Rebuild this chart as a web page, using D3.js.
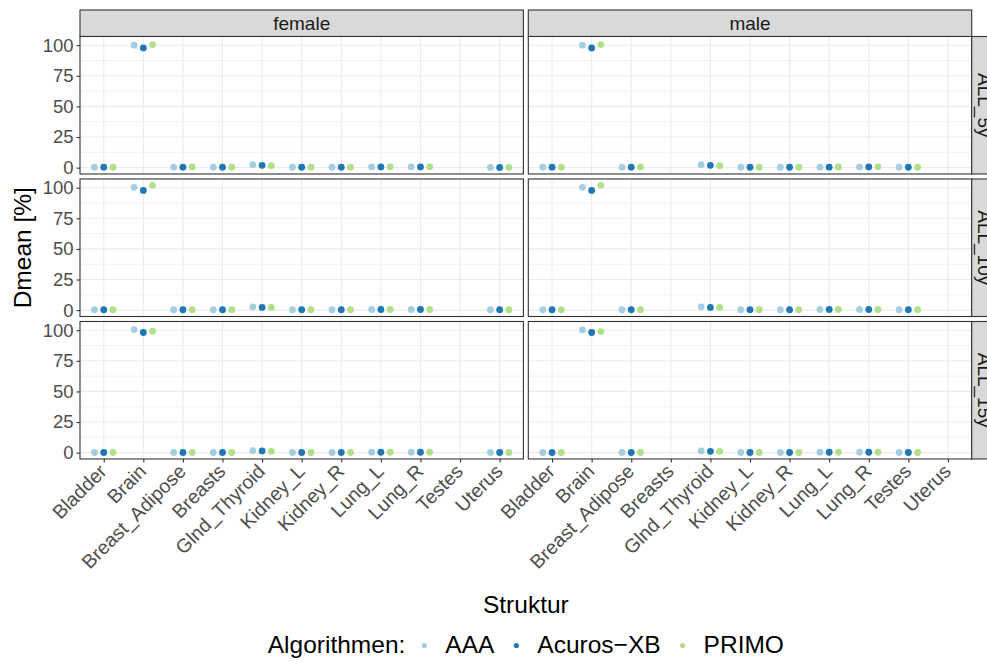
<!DOCTYPE html>
<html>
<head>
<meta charset="utf-8">
<script src="https://cdn.jsdelivr.net/npm/d3@7"></script>
<style>
  body { margin: 0; background: #fff; }
  svg { font-family: "Liberation Sans", Arial, Helvetica, sans-serif; display: block; }
</style>
</head>
<body>
<svg id="chart" width="987" height="662"></svg>
<script>
const categories = ['Bladder', 'Brain', 'Breast_Adipose', 'Breasts', 'Glnd_Thyroid', 'Kidney_L',
    'Kidney_R', 'Lung_L', 'Lung_R', 'Testes', 'Uterus'];
const sexes = ['female', 'male'];
const groups = ['ALL_5y', 'ALL_10y', 'ALL_15y'];
const algorithms = ['AAA', 'Acuros\u2212XB', 'PRIMO'];
const algoColors = ['#a6cee3', '#1f78b4', '#b2df8a'];
const yTicks = [0, 25, 50, 75, 100];
const yMinor = [12.5, 37.5, 62.5, 87.5];

// Dmean [%] per structure, same order as categories (null = structure not present)
const female5yAAA    = [0.3, 100.0, 0.4, 0.3, 2.4, 0.3, 0.3, 0.6, 0.6, null, 0.2];
const female5yAcuros = [0.4, 97.8, 0.4, 0.3, 1.9, 0.3, 0.3, 0.6, 0.6, null, 0.2];
const female5yPRIMO  = [0.3, 100.5, 0.5, 0.3, 1.6, 0.3, 0.3, 0.6, 0.7, null, 0.2];

const male5yAAA    = [0.3, 100.0, 0.4, null, 2.4, 0.3, 0.3, 0.4, 0.6, 0.3, null];
const male5yAcuros = [0.4, 97.8, 0.4, null, 1.9, 0.3, 0.3, 0.4, 0.6, 0.3, null];
const male5yPRIMO  = [0.3, 100.5, 0.5, null, 1.6, 0.3, 0.3, 0.6, 0.7, 0.3, null];

const female10yAAA    = [0.3, 100.3, 0.3, 0.3, 2.7, 0.3, 0.3, 0.5, 0.5, null, 0.3];
const female10yAcuros = [0.3, 97.8, 0.3, 0.3, 2.2, 0.3, 0.3, 0.5, 0.5, null, 0.3];
const female10yPRIMO  = [0.3, 101.9, 0.3, 0.3, 2.2, 0.3, 0.3, 0.5, 0.5, null, 0.3];

const male10yAAA    = [0.3, 100.3, 0.3, null, 2.7, 0.3, 0.3, 0.5, 0.5, 0.3, null];
const male10yAcuros = [0.3, 97.8, 0.3, null, 2.2, 0.3, 0.3, 0.5, 0.5, 0.3, null];
const male10yPRIMO  = [0.3, 101.9, 0.3, null, 2.2, 0.3, 0.3, 0.5, 0.5, 0.3, null];

const female15yAAA    = [0.1, 100.5, 0.1, 0.1, 1.6, 0.1, 0.1, 0.3, 0.3, null, 0.1];
const female15yAcuros = [0.1, 98.1, 0.1, 0.1, 1.4, 0.1, 0.1, 0.3, 0.3, null, 0.1];
const female15yPRIMO  = [0.1, 99.2, 0.1, 0.1, 1.1, 0.1, 0.1, 0.3, 0.3, null, 0.1];

const male15yAAA    = [0.1, 100.3, 0.1, null, 1.4, 0.1, 0.1, 0.3, 0.3, 0.1, null];
const male15yAcuros = [0.1, 98.1, 0.1, null, 1.1, 0.1, 0.1, 0.3, 0.3, 0.1, null];
const male15yPRIMO  = [0.1, 98.9, 0.1, null, 1.1, 0.1, 0.1, 0.3, 0.3, 0.1, null];

// lookup: [group][sex] -> one array per algorithm
const panelData = {
    ALL_5y:  { female: [female5yAAA, female5yAcuros, female5yPRIMO],    male: [male5yAAA, male5yAcuros, male5yPRIMO] },
    ALL_10y: { female: [female10yAAA, female10yAcuros, female10yPRIMO], male: [male10yAAA, male10yAcuros, male10yPRIMO] },
    ALL_15y: { female: [female15yAAA, female15yAcuros, female15yPRIMO], male: [male15yAAA, male15yAcuros, male15yPRIMO] }
};

// layout
const colLeft = [80, 528.3];
const panelW = 443.4;
const rowTop = [36.5, 179, 321.5];
const panelH = 137.5;
const stripTop = 10;
const stripH = 26.5;
const gridColor = '#ebebeb';
const borderColor = '#333333';
const tickTextColor = '#4d4d4d';

const svg = d3.select('#chart');

const x = d3.scalePoint().domain(categories).padding(0.6);
const dodge = 0.7 / 3;

sexes.forEach((sex, c) => {
    const left = colLeft[c];
    x.range([left, left + panelW]);
    const xs = x.copy();

    // top strip
    svg.append('rect')
        .attr('x', left).attr('y', stripTop)
        .attr('width', panelW).attr('height', stripH)
        .attr('fill', '#d9d9d9').attr('stroke', borderColor).attr('stroke-width', 1.1);
    svg.append('text')
        .attr('x', left + panelW / 2).attr('y', stripTop + stripH / 2)
        .attr('dy', '0.35em').attr('text-anchor', 'middle')
        .attr('font-size', 19).attr('fill', '#1a1a1a')
        .text(sex);

    groups.forEach((grp, r) => {
        const top = rowTop[r];
        const y = d3.scaleLinear().domain([-5.2, 107.1]).range([top + panelH, top]);
        const g = svg.append('g');

        g.append('rect')
            .attr('x', left).attr('y', top)
            .attr('width', panelW).attr('height', panelH)
            .attr('fill', '#fff');

        // grid
        g.selectAll('.minor').data(yMinor).enter().append('line')
            .attr('x1', left).attr('x2', left + panelW)
            .attr('y1', d => y(d)).attr('y2', d => y(d))
            .attr('stroke', gridColor).attr('stroke-width', 0.6);
        g.selectAll('.major').data(yTicks).enter().append('line')
            .attr('x1', left).attr('x2', left + panelW)
            .attr('y1', d => y(d)).attr('y2', d => y(d))
            .attr('stroke', gridColor).attr('stroke-width', 1.1);
        g.selectAll('.vgrid').data(categories).enter().append('line')
            .attr('x1', d => xs(d)).attr('x2', d => xs(d))
            .attr('y1', top).attr('y2', top + panelH)
            .attr('stroke', gridColor).attr('stroke-width', 1.1);

        // points, dodged per algorithm
        const values = panelData[grp][sex];
        algorithms.forEach((algo, a) => {
            const pts = categories
                .map((cat, i) => ({ cat: cat, v: values[a][i] }))
                .filter(d => d.v !== null);
            g.selectAll('.pt' + a).data(pts).enter().append('circle')
                .attr('cx', d => xs(d.cat) + (a - 1) * dodge * xs.step())
                .attr('cy', d => y(d.v))
                .attr('r', 3.4)
                .attr('fill', algoColors[a]);
        });

        g.append('rect')
            .attr('x', left).attr('y', top)
            .attr('width', panelW).attr('height', panelH)
            .attr('fill', 'none').attr('stroke', borderColor).attr('stroke-width', 1.1);

        // y axis on the left column only
        if (c === 0) {
            const ax = svg.append('g')
                .attr('transform', `translate(${left}, 0)`)
                .call(d3.axisLeft(y).tickValues(yTicks).tickSize(3.5).tickPadding(3));
            ax.select('.domain').remove();
            ax.selectAll('line').attr('stroke', borderColor).attr('stroke-width', 1.1);
            ax.selectAll('text')
                .attr('font-size', 18.5).attr('fill', tickTextColor)
                .attr('font-family', null);
        }

        // right strip on the last column
        if (c === sexes.length - 1) {
            const sx = left + panelW;
            svg.append('rect')
                .attr('x', sx).attr('y', top)
                .attr('width', stripH).attr('height', panelH)
                .attr('fill', '#d9d9d9').attr('stroke', borderColor).attr('stroke-width', 1.1);
            svg.append('text')
                .attr('transform', `translate(${sx + stripH / 2}, ${top + panelH / 2}) rotate(90)`)
                .attr('dy', '0.35em').attr('text-anchor', 'middle')
                .attr('font-size', 19).attr('fill', '#1a1a1a')
                .text(grp);
        }

        // x axis on the bottom row only
        if (r === groups.length - 1) {
            const ax = svg.append('g')
                .attr('transform', `translate(0, ${top + panelH})`)
                .call(d3.axisBottom(xs).tickSize(3.5));
            ax.select('.domain').remove();
            ax.selectAll('line').attr('stroke', borderColor).attr('stroke-width', 1.1);
            ax.selectAll('text')
                .attr('font-size', 19.5).attr('fill', tickTextColor)
                .attr('font-family', null)
                .attr('text-anchor', 'end')
                .attr('x', 0).attr('y', 0).attr('dy', '0.7em')
                .attr('transform', 'translate(-6, 4) rotate(-45)');
        }
    });
});

// axis titles
const panelsMidX = (colLeft[0] + colLeft[1] + panelW) / 2;
const panelsMidY = (rowTop[0] + rowTop[2] + panelH) / 2;

svg.append('text')
    .attr('x', panelsMidX).attr('y', 613)
    .attr('text-anchor', 'middle').attr('font-size', 24.5)
    .text('Struktur');

svg.append('text')
    .attr('transform', `translate(31, ${panelsMidY}) rotate(-90)`)
    .attr('text-anchor', 'middle').attr('font-size', 24.5)
    .text('Dmean [%]');

// legend, centred under the panels
const legend = svg.append('g');
const legendBase = 653;
const title = legend.append('text')
    .attr('x', 0).attr('y', legendBase).attr('font-size', 24.5)
    .text('Algorithmen:');
let cursor = title.node().getComputedTextLength() + 19;
algorithms.forEach((algo, a) => {
    legend.append('circle')
        .attr('cx', cursor).attr('cy', legendBase - 7.5)
        .attr('r', 2.6).attr('fill', algoColors[a]);
    const t = legend.append('text')
        .attr('x', cursor + 21).attr('y', legendBase)
        .attr('font-size', 24.5)
        .text(algo);
    cursor += 21 + t.node().getComputedTextLength() + 22;
});
const legendWidth = cursor - 22;
legend.attr('transform', `translate(${panelsMidX - legendWidth / 2}, 0)`);
</script>
</body>
</html>
